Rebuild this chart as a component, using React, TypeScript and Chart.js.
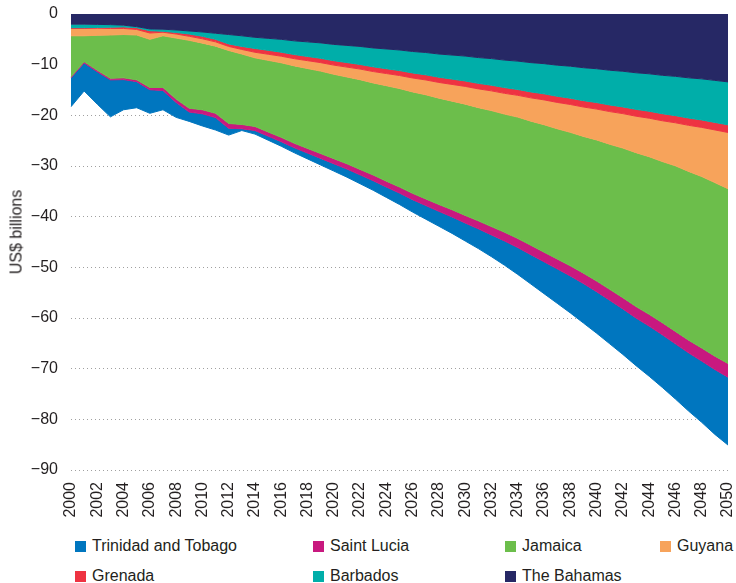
import React, { useEffect, useRef } from "react";
import { Chart, registerables } from "chart.js";

Chart.register(...registerables);

const years = [
  2000, 2001, 2002, 2003, 2004, 2005, 2006, 2007, 2008, 2009,
  2010, 2011, 2012, 2013, 2014, 2015, 2016, 2017, 2018, 2019,
  2020, 2021, 2022, 2023, 2024, 2025, 2026, 2027, 2028, 2029,
  2030, 2031, 2032, 2033, 2034, 2035, 2036, 2037, 2038, 2039,
  2040, 2041, 2042, 2043, 2044, 2045, 2046, 2047, 2048, 2049, 2050,
];

// US$ billions (negative), stacked from 0 downward
const theBahamas = [
  -2.0, -2.0, -2.05, -2.1, -2.2, -2.5, -2.95, -3.0, -3.15, -3.35,
  -3.55, -3.8, -4.05, -4.3, -4.6, -4.8, -5.0, -5.3, -5.5, -5.7,
  -6.0, -6.2, -6.4, -6.7, -6.9, -7.1, -7.4, -7.6, -7.9, -8.1,
  -8.3, -8.6, -8.8, -9.1, -9.3, -9.6, -9.8, -10.1, -10.3, -10.6,
  -10.8, -11.1, -11.3, -11.6, -11.8, -12.1, -12.3, -12.6, -12.8, -13.1, -13.4,
];
const barbados = [
  -0.7, -0.7, -0.6, -0.5, -0.35, -0.2, -0.35, -0.4, -0.5, -0.6,
  -0.85, -1.2, -1.85, -2.1, -2.2, -2.37, -2.54, -2.71, -2.88, -3.05,
  -3.22, -3.39, -3.56, -3.73, -3.9, -4.07, -4.24, -4.41, -4.58, -4.75,
  -4.92, -5.09, -5.26, -5.43, -5.6, -5.78, -5.96, -6.14, -6.32, -6.5,
  -6.68, -6.86, -7.04, -7.22, -7.4, -7.58, -7.76, -7.94, -8.12, -8.3, -8.48,
];
const grenada = [
  -0.15, -0.15, -0.15, -0.25, -0.3, -0.35, -0.45, -0.2, -0.3, -0.45,
  -0.5, -0.5, -0.5, -0.6, -0.75, -0.77, -0.79, -0.81, -0.83, -0.85,
  -0.87, -0.89, -0.91, -0.93, -0.95, -0.97, -0.99, -1.01, -1.03, -1.05,
  -1.07, -1.09, -1.11, -1.13, -1.15, -1.17, -1.19, -1.21, -1.24, -1.26,
  -1.28, -1.3, -1.32, -1.35, -1.37, -1.39, -1.41, -1.43, -1.46, -1.48, -1.5,
];
const guyana = [
  -1.45, -1.45, -1.4, -1.3, -1.2, -1.1, -1.25, -0.7, -0.8, -0.8,
  -0.85, -0.85, -0.8, -0.9, -1.1, -1.2, -1.3, -1.42, -1.55, -1.67,
  -1.8, -1.95, -2.1, -2.25, -2.4, -2.57, -2.75, -2.92, -3.1, -3.3,
  -3.5, -3.7, -3.9, -4.1, -4.3, -4.6, -4.9, -5.2, -5.5, -5.8,
  -6.1, -6.45, -6.8, -7.2, -7.6, -8.05, -8.5, -9.1, -9.7, -10.4, -11.1,
];
const jamaica = [
  -8.1, -5.1, -6.9, -8.55, -8.55, -8.85, -9.5, -10.2, -12.05, -13.4,
  -13.15, -13.25, -14.4, -13.9, -13.55, -14.14, -14.72, -15.28, -15.77, -16.27,
  -16.66, -17.13, -17.7, -18.17, -18.84, -19.44, -20.02, -20.56, -20.99, -21.43,
  -21.96, -22.35, -22.89, -23.32, -23.95, -24.5, -25.15, -25.7, -26.34, -26.99,
  -27.84, -28.64, -29.54, -30.37, -31.11, -31.8, -32.69, -33.3, -33.85, -34.25, -34.5,
];
const saintLucia = [
  -0.2, -0.25, -0.3, -0.3, -0.35, -0.35, -0.45, -0.6, -0.65, -0.75,
  -0.8, -0.85, -0.95, -0.85, -0.8, -0.82, -0.85, -0.88, -0.92, -0.96,
  -1.0, -1.04, -1.08, -1.12, -1.16, -1.2, -1.25, -1.3, -1.35, -1.42,
  -1.5, -1.57, -1.64, -1.72, -1.8, -1.85, -1.9, -1.95, -2.0, -2.05,
  -2.1, -2.15, -2.2, -2.26, -2.32, -2.38, -2.44, -2.5, -2.57, -2.64, -2.7,
];
const trinidadAndTobago = [
  -5.7, -5.55, -6.4, -7.3, -5.95, -5.15, -4.65, -3.8, -2.95, -1.85,
  -2.4, -2.45, -1.35, -0.35, -0.7, -0.8, -0.9, -1.0, -1.15, -1.3,
  -1.45, -1.6, -1.75, -1.9, -2.05, -2.25, -2.45, -2.7, -2.95, -3.25,
  -3.55, -3.9, -4.3, -4.8, -5.3, -5.8, -6.3, -6.8, -7.3, -7.8,
  -8.2, -8.6, -9.0, -9.4, -9.9, -10.4, -10.9, -11.5, -12.1, -12.8, -13.4,
];

const yTicks = [0, -10, -20, -30, -40, -50, -60, -70, -80, -90];
const yTitle = "US$ billions";

const C = {
  bahamas: "#262865",
  barbados: "#00AEA9",
  grenada: "#EE3342",
  guyana: "#F7A35B",
  jamaica: "#6CBE4B",
  lucia: "#C8197F",
  tt: "#0076BF",
};

const FONT = '"Liberation Sans", Arial, sans-serif';
const TEXT = "#231f20";

const legendItems = [
  { label: "Trinidad and Tobago", color: C.tt, left: 75, top: 546 },
  { label: "Saint Lucia", color: C.lucia, left: 313, top: 546 },
  { label: "Jamaica", color: C.jamaica, left: 505, top: 546 },
  { label: "Guyana", color: C.guyana, left: 660, top: 546 },
  { label: "Grenada", color: C.grenada, left: 75, top: 576 },
  { label: "Barbados", color: C.barbados, left: 313, top: 576 },
  { label: "The Bahamas", color: C.bahamas, left: 505, top: 576 },
];

export default function App() {
  const ref = useRef<HTMLCanvasElement | null>(null);

  useEffect(() => {
    if (!ref.current) return;
    const mk = (label: string, data: number[], color: string, fill: any) => ({
      label,
      data,
      backgroundColor: color,
      borderColor: color,
      borderWidth: 1,
      pointRadius: 0,
      pointHoverRadius: 0,
      tension: 0,
      fill,
    });
    const chart = new Chart(ref.current, {
      type: "line",
      data: {
        labels: years.map(String),
        datasets: [
          mk("The Bahamas", theBahamas, C.bahamas, "origin"),
          mk("Barbados", barbados, C.barbados, "-1"),
          mk("Grenada", grenada, C.grenada, "-1"),
          mk("Guyana", guyana, C.guyana, "-1"),
          mk("Jamaica", jamaica, C.jamaica, "-1"),
          mk("Saint Lucia", saintLucia, C.lucia, "-1"),
          mk("Trinidad and Tobago", trinidadAndTobago, C.tt, "-1"),
        ],
      },
      options: {
        animation: false,
        responsive: true,
        maintainAspectRatio: false,
        layout: { padding: { top: 14, right: 8, bottom: 12, left: 6 } },
        plugins: {
          legend: { display: false },
          tooltip: { enabled: false },
        },
        scales: {
          x: {
            offset: false,
            grid: { display: false, drawTicks: false },
            border: { display: false },
            afterFit: (s: any) => {
              s.paddingLeft = 0;
              s.paddingRight = 0;
              s.height = 48;
            },
            ticks: {
              autoSkip: false,
              minRotation: 90,
              maxRotation: 90,
              padding: 12,
              color: TEXT,
              font: { family: FONT, size: 16 },
              callback: (_v: any, i: number) => (i % 2 === 0 ? String(years[i]) : null),
            },
          },
          y: {
            stacked: true,
            min: -90,
            max: 0,
            afterBuildTicks: (axis: any) => {
              axis.ticks = yTicks.map((v) => ({ value: v }));
            },
            afterFit: (s: any) => {
              s.paddingTop = 0;
              s.paddingBottom = 0;
              s.width = 65;
            },
            grid: {
              color: "#a0a0a0",
              lineWidth: 1,
              drawTicks: false,
            },
            border: { display: false, dash: [1, 3] },
            ticks: {
              padding: 13,
              color: TEXT,
              font: { family: FONT, size: 16 },
              callback: (v: any) => (Number(v) < 0 ? "\u2212" + Math.abs(Number(v)) : "0"),
            },
            title: { display: false },
          },
        },
      } as any,
    });
    return () => chart.destroy();
  }, []);

  return (
    <div
      style={{
        position: "absolute",
        left: 0,
        top: 0,
        width: 736,
        height: 583,
        background: "#fff",
        fontFamily: FONT,
      }}
    >
      <div style={{ position: "absolute", left: 0, top: 0, width: 736, height: 530 }}>
        <canvas ref={ref} />
      </div>
      <div
        style={{
          position: "absolute",
          left: 16,
          top: 232,
          transform: "translate(-50%, -50%) rotate(-90deg)",
          whiteSpace: "nowrap",
          fontSize: 16,
          lineHeight: "19px",
          color: TEXT,
        }}
      >
        {yTitle}
      </div>
      {legendItems.map((it) => (
        <div
          key={it.label}
          style={{
            position: "absolute",
            left: it.left,
            top: it.top - 10,
            height: 20,
            display: "flex",
            alignItems: "center",
            whiteSpace: "nowrap",
            fontSize: 16,
            color: TEXT,
          }}
        >
          <span
            style={{
              display: "inline-block",
              width: 11,
              height: 11,
              background: it.color,
              marginRight: 6,
            }}
          />
          <span>{it.label}</span>
        </div>
      ))}
    </div>
  );
}
